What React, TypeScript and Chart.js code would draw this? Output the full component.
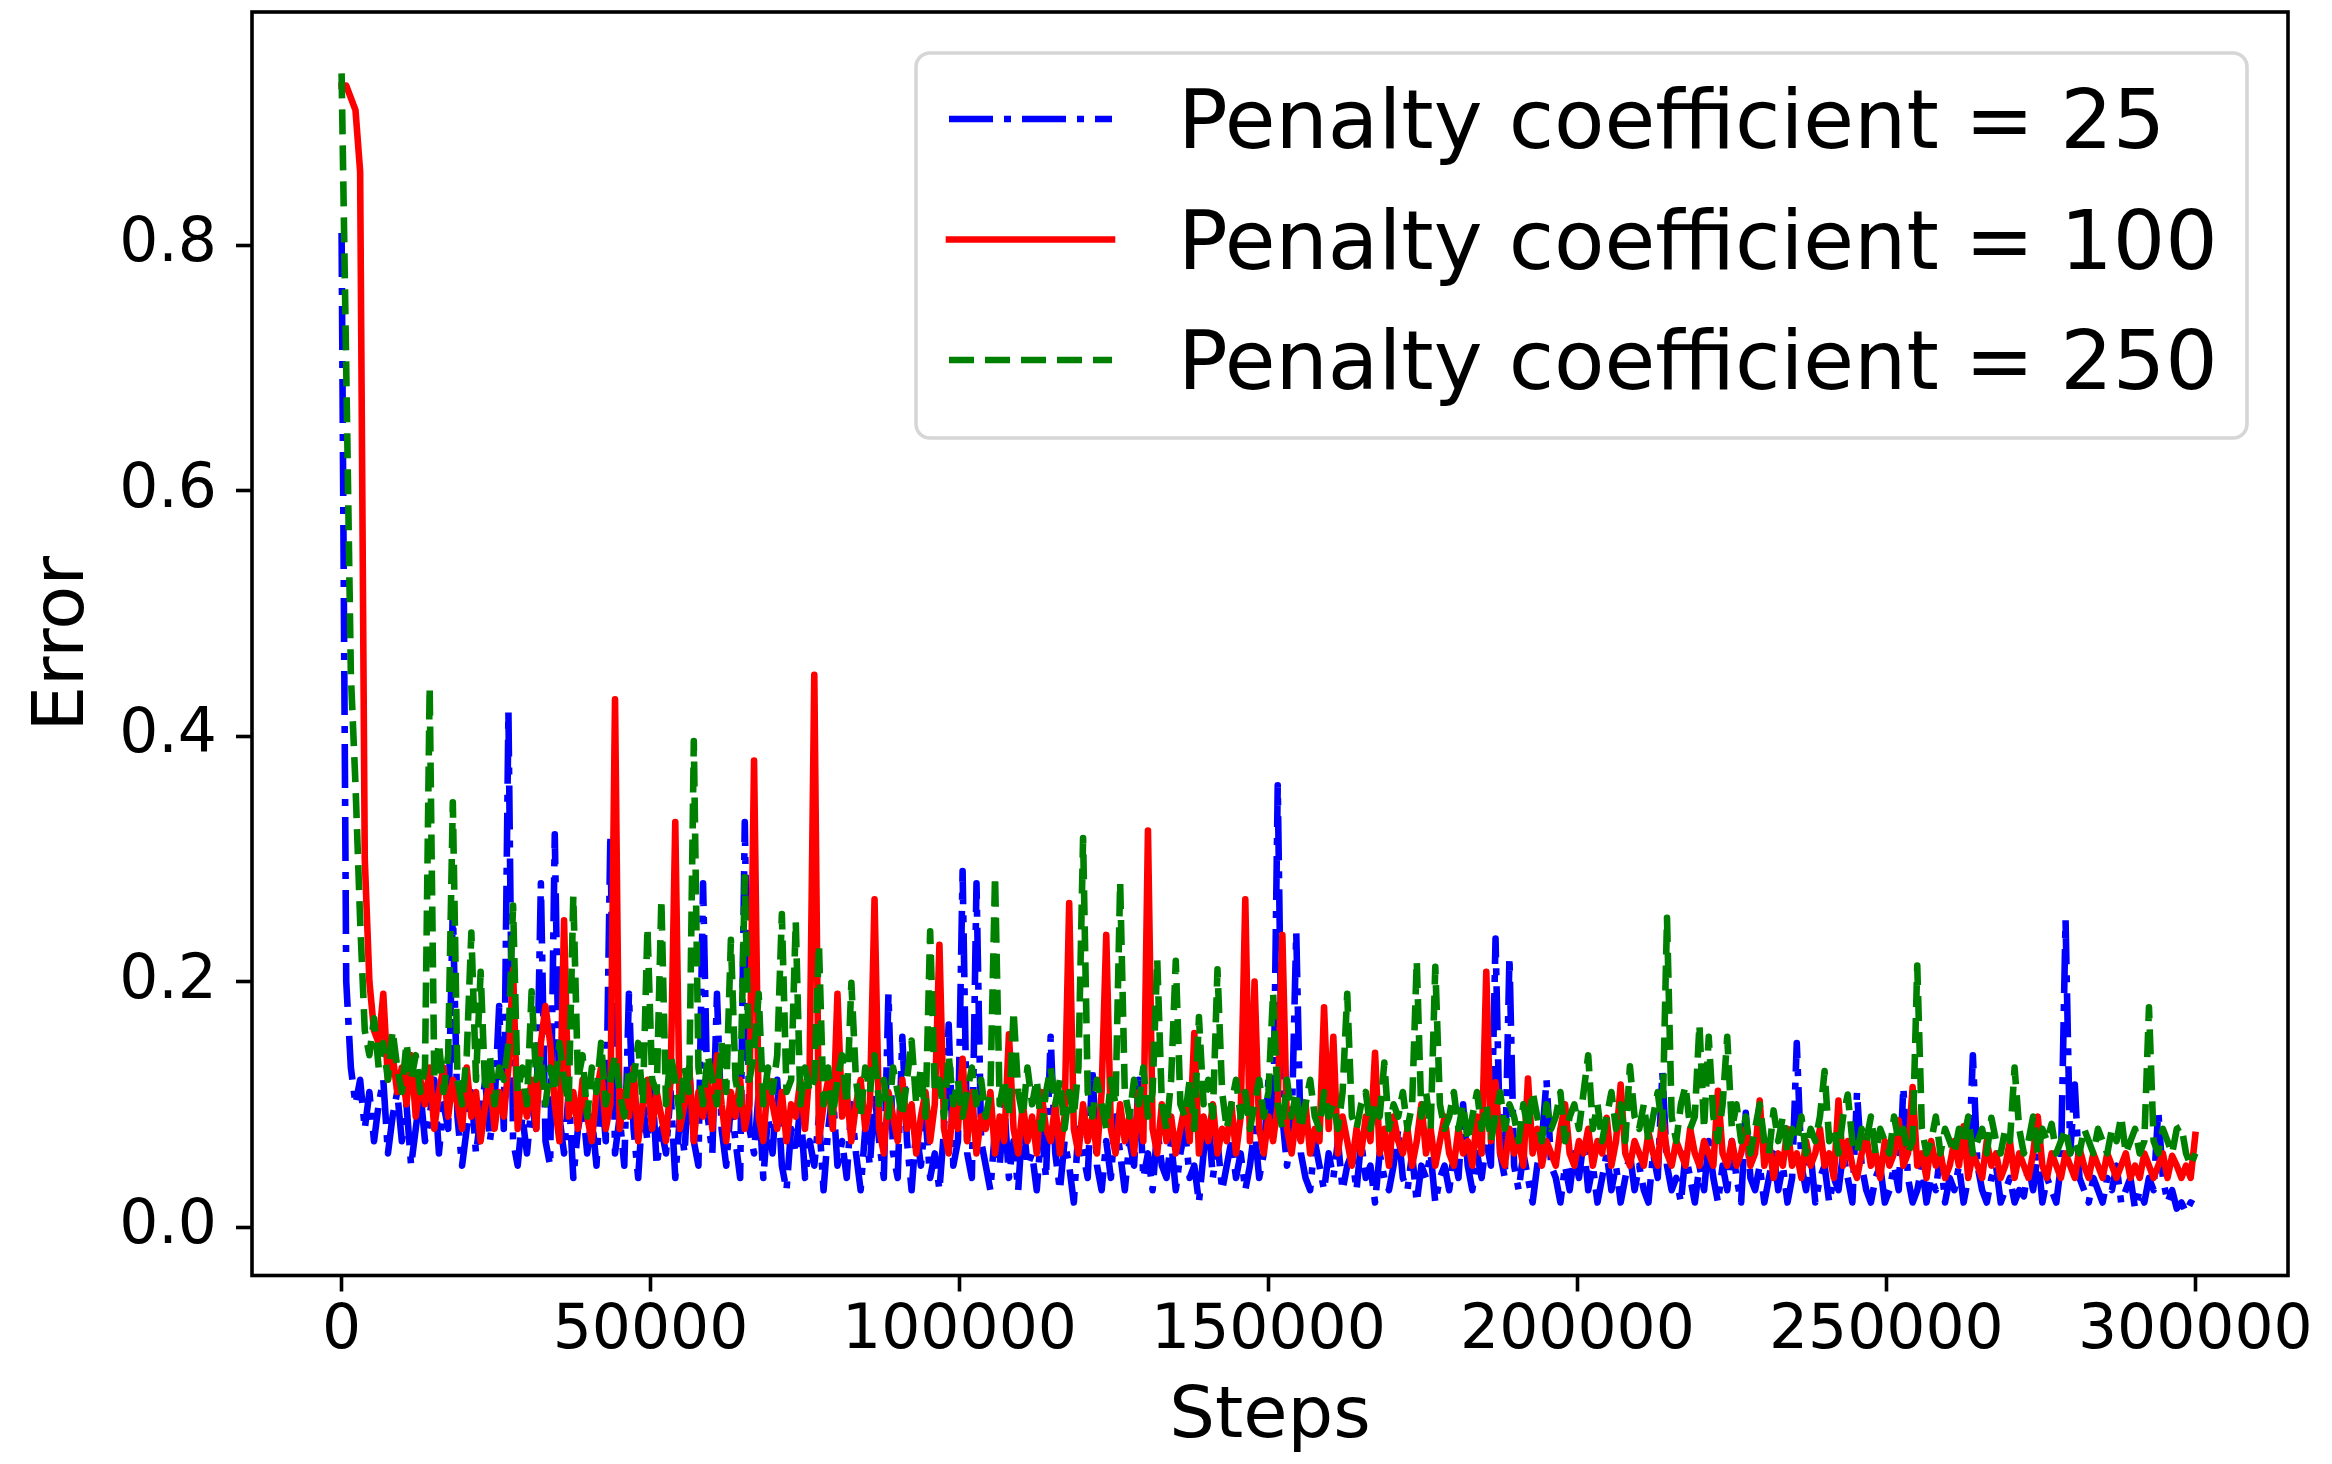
import React, { useEffect, useRef } from 'react';
import { Chart, registerables } from 'chart.js';

Chart.register(...registerables);

// ---- data (one value every 750 steps) ----
const STEP_INTERVAL = 750;

const PENALTY_25 = [
  0.81, 0.20, 0.13, 0.10, 0.12, 0.08, 0.11, 0.07, 0.10, 0.12, 0.06, 0.09, 0.11, 0.07, 0.10, 0.05, 0.08, 0.11, 0.07, 0.09,
  0.12, 0.06, 0.10, 0.08, 0.26, 0.09, 0.05, 0.08, 0.11, 0.06, 0.09, 0.12, 0.07, 0.10, 0.18, 0.08, 0.42, 0.07, 0.05, 0.09,
  0.06, 0.10, 0.08, 0.28, 0.07, 0.05, 0.32, 0.09, 0.06, 0.11, 0.04, 0.08, 0.10, 0.06, 0.09, 0.05, 0.12, 0.07, 0.32, 0.06,
  0.09, 0.05, 0.19, 0.08, 0.04, 0.10, 0.07, 0.12, 0.05, 0.08, 0.06, 0.11, 0.04, 0.09, 0.06, 0.13, 0.07, 0.05, 0.28, 0.09,
  0.06, 0.19, 0.08, 0.05, 0.10, 0.07, 0.04, 0.33, 0.08, 0.06, 0.11, 0.04, 0.09, 0.06, 0.12, 0.05, 0.03, 0.08, 0.06, 0.10,
  0.04, 0.07, 0.05, 0.09, 0.03, 0.08, 0.11, 0.05, 0.07, 0.04, 0.10, 0.06, 0.03, 0.08, 0.05, 0.11, 0.07, 0.04, 0.19, 0.06,
  0.04, 0.155, 0.07, 0.03, 0.08, 0.05, 0.09, 0.04, 0.06, 0.03, 0.08, 0.165, 0.05, 0.07, 0.29, 0.06, 0.04, 0.28, 0.07, 0.05,
  0.03, 0.08, 0.05, 0.10, 0.04, 0.07, 0.03, 0.09, 0.05, 0.06, 0.03, 0.08, 0.04, 0.155, 0.06, 0.03, 0.07, 0.05, 0.02, 0.08,
  0.06, 0.04, 0.13, 0.05, 0.03, 0.07, 0.04, 0.09, 0.06, 0.03, 0.07, 0.05, 0.12, 0.04, 0.06, 0.03, 0.08, 0.05, 0.04, 0.07,
  0.03, 0.06, 0.08, 0.04, 0.05, 0.02, 0.06, 0.09, 0.04, 0.07, 0.03, 0.05, 0.07, 0.04, 0.06, 0.03, 0.05, 0.08, 0.04, 0.06,
  0.12, 0.07, 0.36, 0.09, 0.05, 0.08, 0.24, 0.06, 0.04, 0.03, 0.07, 0.05, 0.03, 0.06, 0.04, 0.07, 0.03, 0.05, 0.06, 0.03,
  0.07, 0.04, 0.05, 0.02, 0.06, 0.04, 0.03, 0.05, 0.08, 0.04, 0.03, 0.06, 0.02, 0.05, 0.04, 0.06, 0.02, 0.04, 0.05, 0.03,
  0.06, 0.04, 0.10, 0.05, 0.03, 0.06, 0.04, 0.07, 0.05, 0.235, 0.06, 0.04, 0.22, 0.05, 0.03, 0.06, 0.04, 0.02, 0.05, 0.07,
  0.12, 0.05, 0.04, 0.02, 0.05, 0.03, 0.06, 0.04, 0.07, 0.03, 0.05, 0.02, 0.04, 0.06, 0.03, 0.05, 0.02, 0.04, 0.06, 0.03,
  0.05, 0.03, 0.02, 0.06, 0.04, 0.126, 0.05, 0.03, 0.04, 0.02, 0.06, 0.04, 0.02, 0.05, 0.03, 0.07, 0.04, 0.02, 0.05, 0.03,
  0.07, 0.04, 0.02, 0.093, 0.04, 0.03, 0.05, 0.02, 0.04, 0.06, 0.03, 0.05, 0.02, 0.04, 0.15, 0.05, 0.03, 0.06, 0.02, 0.04,
  0.05, 0.02, 0.04, 0.03, 0.06, 0.04, 0.02, 0.11, 0.05, 0.03, 0.02, 0.04, 0.05, 0.02, 0.03, 0.05, 0.03, 0.114, 0.04, 0.02,
  0.03, 0.05, 0.02, 0.04, 0.03, 0.06, 0.02, 0.04, 0.03, 0.05, 0.02, 0.04, 0.14, 0.05, 0.03, 0.02, 0.04, 0.05, 0.02, 0.03,
  0.04, 0.02, 0.03, 0.025, 0.05, 0.03, 0.06, 0.02, 0.04, 0.03, 0.02, 0.05, 0.25, 0.06, 0.116, 0.04, 0.03, 0.02, 0.04, 0.03,
  0.02, 0.04, 0.03, 0.05, 0.02, 0.03, 0.04, 0.015, 0.03, 0.02, 0.04, 0.03, 0.095, 0.04, 0.02, 0.03, 0.015, 0.02, 0.012, 0.02,
  0.018,
];

const PENALTY_100 = [
  0.93, 0.93, 0.92, 0.91, 0.86, 0.30, 0.20, 0.16, 0.15, 0.19, 0.12, 0.14, 0.11, 0.13, 0.10, 0.14, 0.09, 0.12, 0.10, 0.13,
  0.08, 0.11, 0.13, 0.09, 0.12, 0.10, 0.08, 0.13, 0.09, 0.11, 0.07, 0.10, 0.12, 0.08, 0.11, 0.09, 0.13, 0.21, 0.08, 0.11,
  0.09, 0.12, 0.08, 0.15, 0.18, 0.15, 0.10, 0.07, 0.25, 0.09, 0.11, 0.08, 0.12, 0.09, 0.07, 0.11, 0.13, 0.08, 0.10, 0.43,
  0.08, 0.11, 0.09, 0.13, 0.07, 0.10, 0.12, 0.08, 0.11, 0.09, 0.07, 0.12, 0.33, 0.08, 0.10, 0.13, 0.07, 0.11, 0.09, 0.12,
  0.08, 0.14, 0.10, 0.07, 0.11, 0.09, 0.12, 0.08, 0.10, 0.38, 0.09, 0.07, 0.12, 0.10, 0.08, 0.11, 0.07, 0.10, 0.09, 0.12,
  0.08, 0.13, 0.45, 0.07, 0.10, 0.12, 0.08, 0.19, 0.09, 0.11, 0.07, 0.10, 0.12, 0.08, 0.10, 0.267, 0.08, 0.06, 0.11, 0.09,
  0.07, 0.12, 0.08, 0.10, 0.06, 0.09, 0.11, 0.07, 0.10, 0.23, 0.08, 0.06, 0.10, 0.08, 0.137, 0.07, 0.11, 0.06, 0.09, 0.08,
  0.11, 0.06, 0.09, 0.07, 0.157, 0.08, 0.06, 0.10, 0.07, 0.09, 0.06, 0.11, 0.08, 0.07, 0.10, 0.06, 0.09, 0.264, 0.08, 0.06,
  0.10, 0.07, 0.09, 0.06, 0.11, 0.238, 0.08, 0.06, 0.10, 0.07, 0.09, 0.06, 0.11, 0.07, 0.323, 0.08, 0.06, 0.10, 0.07, 0.09,
  0.06, 0.08, 0.10, 0.07, 0.158, 0.06, 0.09, 0.07, 0.10, 0.06, 0.08, 0.07, 0.10, 0.06, 0.09, 0.267, 0.07, 0.20, 0.08, 0.06,
  0.09, 0.07, 0.10, 0.238, 0.08, 0.06, 0.09, 0.07, 0.10, 0.06, 0.08, 0.07, 0.179, 0.08, 0.155, 0.06, 0.09, 0.07, 0.05, 0.08,
  0.06, 0.09, 0.07, 0.142, 0.06, 0.08, 0.05, 0.09, 0.07, 0.06, 0.08, 0.05, 0.07, 0.10, 0.06, 0.08, 0.05, 0.07, 0.09, 0.06,
  0.05, 0.08, 0.06, 0.07, 0.05, 0.09, 0.06, 0.208, 0.07, 0.118, 0.06, 0.05, 0.08, 0.06, 0.07, 0.05, 0.121, 0.06, 0.08, 0.05,
  0.07, 0.06, 0.05, 0.08, 0.10, 0.06, 0.05, 0.07, 0.06, 0.08, 0.05, 0.07, 0.06, 0.089, 0.05, 0.07, 0.116, 0.06, 0.05, 0.07,
  0.06, 0.05, 0.077, 0.06, 0.05, 0.092, 0.06, 0.05, 0.07, 0.06, 0.05, 0.08, 0.06, 0.05, 0.07, 0.06, 0.05, 0.111, 0.06, 0.05,
  0.07, 0.05, 0.06, 0.08, 0.05, 0.06, 0.103, 0.05, 0.07, 0.04, 0.06, 0.05, 0.08, 0.05, 0.06, 0.04, 0.07, 0.05, 0.06, 0.08,
  0.05, 0.06, 0.04, 0.103, 0.05, 0.07, 0.05, 0.04, 0.06, 0.074, 0.05, 0.06, 0.04, 0.07, 0.05, 0.06, 0.087, 0.05, 0.06, 0.114,
  0.05, 0.06, 0.04, 0.07, 0.05, 0.06, 0.04, 0.05, 0.07, 0.05, 0.082, 0.04, 0.06, 0.05, 0.04, 0.07, 0.05, 0.06, 0.04, 0.05,
  0.07, 0.04, 0.06, 0.05, 0.04, 0.06, 0.09, 0.05, 0.04, 0.06, 0.05, 0.04, 0.06, 0.05, 0.04, 0.064, 0.05, 0.04, 0.06, 0.05,
  0.04, 0.06, 0.05, 0.04, 0.05, 0.06, 0.04, 0.05, 0.04, 0.06, 0.05, 0.04, 0.05, 0.06, 0.04, 0.058, 0.05, 0.04, 0.05, 0.04,
  0.075,
];

const PENALTY_250 = [
  0.94, 0.70, 0.45, 0.36, 0.25, 0.16, 0.14, 0.17, 0.13, 0.15, 0.12, 0.16, 0.13, 0.11, 0.15, 0.12, 0.14, 0.11, 0.13, 0.44,
  0.12, 0.15, 0.11, 0.14, 0.346, 0.12, 0.10, 0.14, 0.24, 0.12, 0.208, 0.11, 0.14, 0.10, 0.13, 0.12, 0.15, 0.262, 0.11, 0.13,
  0.10, 0.192, 0.12, 0.14, 0.10, 0.13, 0.11, 0.15, 0.12, 0.10, 0.27, 0.12, 0.14, 0.09, 0.13, 0.11, 0.15, 0.10, 0.12, 0.14,
  0.11, 0.09, 0.13, 0.12, 0.15, 0.10, 0.244, 0.12, 0.11, 0.267, 0.10, 0.14, 0.12, 0.09, 0.13, 0.11, 0.396, 0.13, 0.10, 0.14,
  0.12, 0.10, 0.15, 0.11, 0.234, 0.12, 0.10, 0.285, 0.12, 0.14, 0.19, 0.10, 0.13, 0.11, 0.14, 0.255, 0.11, 0.12, 0.249, 0.10,
  0.13, 0.11, 0.12, 0.23, 0.10, 0.13, 0.09, 0.12, 0.14, 0.10, 0.199, 0.12, 0.09, 0.13, 0.11, 0.14, 0.10, 0.12, 0.09, 0.13,
  0.11, 0.09, 0.12, 0.152, 0.10, 0.13, 0.09, 0.241, 0.11, 0.12, 0.09, 0.14, 0.10, 0.12, 0.09, 0.11, 0.13, 0.10, 0.12, 0.09,
  0.11, 0.286, 0.10, 0.12, 0.09, 0.176, 0.11, 0.09, 0.13, 0.10, 0.12, 0.08, 0.11, 0.13, 0.10, 0.12, 0.08, 0.11, 0.09, 0.13,
  0.317, 0.11, 0.09, 0.12, 0.10, 0.08, 0.12, 0.10, 0.281, 0.11, 0.09, 0.12, 0.10, 0.13, 0.09, 0.11, 0.218, 0.10, 0.08, 0.12,
  0.217, 0.10, 0.09, 0.12, 0.08, 0.171, 0.10, 0.12, 0.09, 0.21, 0.11, 0.08, 0.10, 0.12, 0.09, 0.11, 0.08, 0.10, 0.12, 0.09,
  0.11, 0.191, 0.10, 0.08, 0.12, 0.09, 0.11, 0.08, 0.10, 0.12, 0.09, 0.08, 0.11, 0.09, 0.10, 0.08, 0.11, 0.19, 0.09, 0.08,
  0.10, 0.11, 0.08, 0.10, 0.09, 0.134, 0.08, 0.10, 0.09, 0.11, 0.08, 0.10, 0.217, 0.09, 0.11, 0.08, 0.212, 0.10, 0.08, 0.09,
  0.11, 0.08, 0.10, 0.07, 0.09, 0.11, 0.08, 0.10, 0.07, 0.09, 0.11, 0.08, 0.10, 0.09, 0.07, 0.10, 0.08, 0.11, 0.09, 0.07,
  0.10, 0.08, 0.09, 0.11, 0.07, 0.09, 0.10, 0.08, 0.11, 0.14, 0.08, 0.10, 0.07, 0.09, 0.11, 0.08, 0.10, 0.07, 0.131, 0.09,
  0.08, 0.10, 0.07, 0.09, 0.11, 0.08, 0.252, 0.09, 0.07, 0.10, 0.115, 0.08, 0.09, 0.165, 0.08, 0.155, 0.09, 0.07, 0.10, 0.155,
  0.08, 0.10, 0.07, 0.09, 0.06, 0.08, 0.10, 0.07, 0.06, 0.095, 0.07, 0.09, 0.06, 0.08, 0.07, 0.09, 0.06, 0.08, 0.07, 0.09,
  0.127, 0.07, 0.08, 0.06, 0.09, 0.108, 0.07, 0.06, 0.08, 0.07, 0.09, 0.06, 0.08, 0.07, 0.06, 0.09, 0.07, 0.08, 0.06, 0.07,
  0.213, 0.08, 0.06, 0.07, 0.09, 0.06, 0.08, 0.07, 0.06, 0.08, 0.07, 0.09, 0.06, 0.07, 0.08, 0.06, 0.089, 0.07, 0.06, 0.08,
  0.07, 0.13, 0.08, 0.06, 0.07, 0.09, 0.06, 0.08, 0.07, 0.084, 0.06, 0.07, 0.08, 0.06, 0.07, 0.06, 0.08, 0.07, 0.06, 0.08,
  0.07, 0.06, 0.08, 0.07, 0.09, 0.06, 0.07, 0.08, 0.06, 0.07, 0.179, 0.07, 0.06, 0.08, 0.07, 0.06, 0.08, 0.082, 0.06, 0.05,
  0.06,
];

const STEPS = PENALTY_25.map((_, i) => i * STEP_INTERVAL);

const SERIES_LABELS = [
  'Penalty coefficient = 25',
  'Penalty coefficient = 100',
  'Penalty coefficient = 250',
];
const X_TICKS = [0, 50000, 100000, 150000, 200000, 250000, 300000];
const Y_TICKS = [0.0, 0.2, 0.4, 0.6, 0.8];
const X_TITLE = 'Steps';
const Y_TITLE = 'Error';

const FONT = 'DejaVu Sans';
const LW = 6.6;

const framePlugin = {
  id: 'mplFrame',
  afterDatasetsDraw(chart: any) {
    const { ctx, chartArea: a } = chart;
    ctx.save();
    // spines
    ctx.strokeStyle = '#000';
    ctx.lineWidth = 3.6;
    ctx.setLineDash([]);
    ctx.strokeRect(a.left, a.top, a.right - a.left, a.bottom - a.top);

    // legend
    const w = 1331;
    const h = 385;
    const x0 = a.right - 41 - w;
    const y0 = a.top + 41;
    ctx.beginPath();
    ctx.roundRect(x0, y0, w, h, 14);
    ctx.fillStyle = 'rgba(255,255,255,0.8)';
    ctx.fill();
    ctx.strokeStyle = 'rgba(204,204,204,0.8)';
    ctx.lineWidth = 3.6;
    ctx.stroke();

    chart.data.datasets.forEach((ds: any, k: number) => {
      const cy = y0 + 66 + k * 120.5;
      ctx.beginPath();
      ctx.setLineDash(ds.borderDash || []);
      ctx.lineDashOffset = 0;
      ctx.lineCap = ds.borderCapStyle || 'butt';
      ctx.strokeStyle = ds.borderColor;
      ctx.lineWidth = LW;
      ctx.moveTo(x0 + 33, cy);
      ctx.lineTo(x0 + 196, cy);
      ctx.stroke();
      ctx.setLineDash([]);
      ctx.fillStyle = '#000';
      ctx.font = `82.5px "${FONT}"`;
      ctx.textAlign = 'left';
      ctx.textBaseline = 'alphabetic';
      ctx.fillText(ds.label, x0 + 262, cy + 29);
    });
    ctx.restore();
  },
};

export default function App() {
  const ref = useRef<HTMLCanvasElement | null>(null);

  useEffect(() => {
    if (!ref.current) return;
    const common = {
      borderWidth: LW,
      pointRadius: 0,
      pointHoverRadius: 0,
      tension: 0,
      fill: false,
      borderJoinStyle: 'round',
    };
    const chart = new Chart(ref.current, {
      type: 'line',
      data: {
        labels: STEPS,
        datasets: [
          {
            ...common,
            label: SERIES_LABELS[0],
            data: PENALTY_25,
            borderColor: '#0000ff',
            borderDash: [44, 11, 7, 11],
            borderCapStyle: 'butt',
            order: 2,
          },
          {
            ...common,
            label: SERIES_LABELS[1],
            data: PENALTY_100,
            borderColor: '#ff0000',
            borderDash: [],
            borderCapStyle: 'square',
            order: 1,
          },
          {
            ...common,
            label: SERIES_LABELS[2],
            data: PENALTY_250,
            borderColor: '#008000',
            borderDash: [25, 11],
            borderCapStyle: 'butt',
            order: 0,
          },
        ],
      } as any,
      options: {
        responsive: false,
        animation: false,
        devicePixelRatio: 1,
        events: [],
        layout: { padding: { top: 12, right: 44, left: 0, bottom: 0 } },
        plugins: {
          legend: { display: false },
          tooltip: { enabled: false },
          title: { display: false },
        },
        scales: {
          x: {
            type: 'linear',
            min: -14500,
            max: 315000,
            afterBuildTicks: (ax: any) => {
              ax.ticks = X_TICKS.map((v) => ({ value: v }));
            },
            afterFit: (ax: any) => {
              ax.height = 188.5;
              ax.paddingLeft = 0;
              ax.paddingRight = 0;
            },
            grid: {
              display: true,
              drawOnChartArea: false,
              drawTicks: true,
              tickLength: 16,
              tickWidth: 3.6,
              tickColor: '#000',
            },
            border: { display: false },
            ticks: {
              color: '#000',
              font: { family: FONT, size: 61.5 },
              padding: 4,
              maxRotation: 0,
              minRotation: 0,
              autoSkip: false,
              callback: (v: any) => String(v),
            },
            title: {
              display: true,
              text: X_TITLE,
              color: '#000',
              font: { family: FONT, size: 72 },
              padding: { top: 0, bottom: 3 },
            },
          },
          y: {
            type: 'linear',
            min: -0.0395,
            max: 0.99,
            afterBuildTicks: (ax: any) => {
              ax.ticks = Y_TICKS.map((v) => ({ value: v }));
            },
            afterFit: (ax: any) => {
              ax.width = 252;
              ax.paddingTop = 0;
              ax.paddingBottom = 0;
            },
            grid: {
              display: true,
              drawOnChartArea: false,
              drawTicks: true,
              tickLength: 16,
              tickWidth: 3.6,
              tickColor: '#000',
            },
            border: { display: false },
            ticks: {
              color: '#000',
              font: { family: FONT, size: 61.5 },
              padding: 19,
              autoSkip: false,
              callback: (v: any) => Number(v).toFixed(1),
            },
            title: {
              display: true,
              text: Y_TITLE,
              color: '#000',
              font: { family: FONT, size: 72 },
              padding: { top: 21, bottom: 0 },
            },
          },
        },
      } as any,
      plugins: [framePlugin],
    });
    return () => chart.destroy();
  }, []);

  return (
    <div style={{ position: 'absolute', left: 0, top: 0, width: 2332, height: 1464, background: '#fff' }}>
      <canvas ref={ref} width={2332} height={1464} style={{ display: 'block', width: 2332, height: 1464 }} />
    </div>
  );
}
